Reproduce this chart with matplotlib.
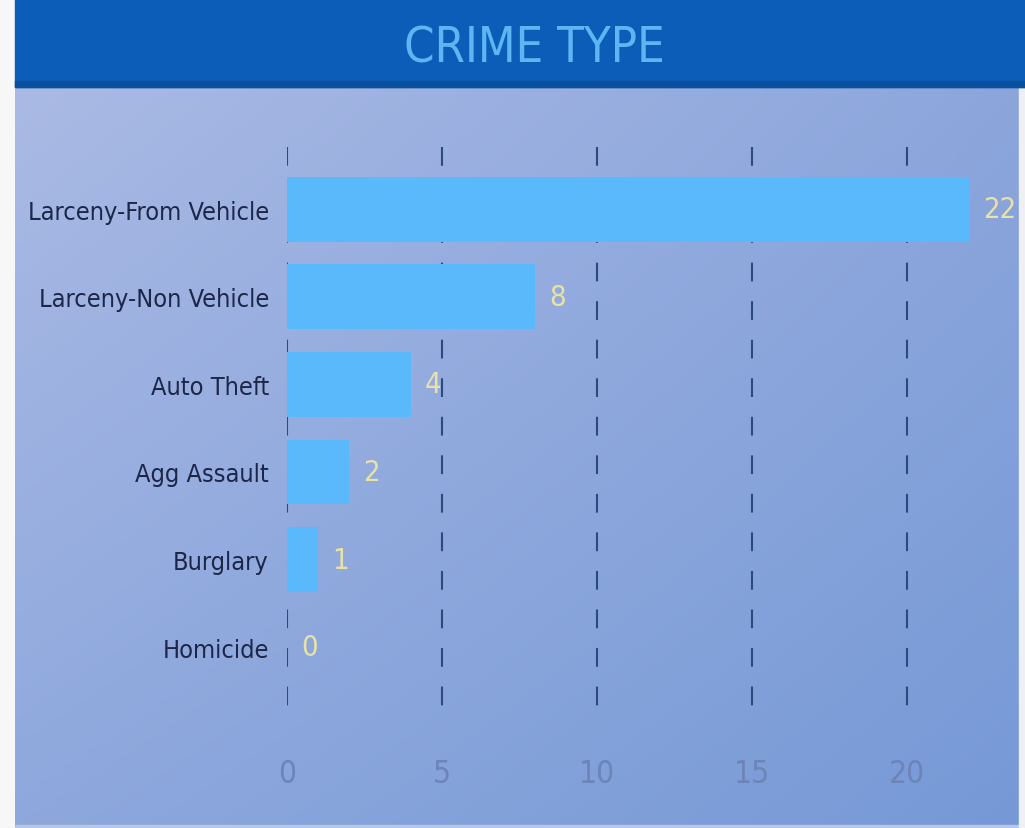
import numpy as np
import matplotlib
matplotlib.use("Agg")
import matplotlib.pyplot as plt
from matplotlib.patches import Rectangle
from matplotlib import font_manager as fm

categories = ["Larceny-From Vehicle", "Larceny-Non Vehicle", "Auto Theft",
              "Agg Assault", "Burglary", "Homicide"]
values = [22, 8, 4, 2, 1, 0]
xticks = [0, 5, 10, 15, 20]
title = "CRIME TYPE"

# pick the narrowest installed sans family
STRETCH_ORDER = {"ultra-condensed": 50, "extra-condensed": 62, "condensed": 75,
                 "semi-condensed": 87}
best = None
for f in fm.fontManager.ttflist:
    st = f.stretch
    if isinstance(st, str):
        st = STRETCH_ORDER.get(st, 100)
    if st < 100 and ("Sans" in f.name or "Roboto" in f.name or "Lato" in f.name
                     or "Inter" in f.name) and "Mono" not in f.name and "CJK" not in f.name:
        if best is None or st < best[1]:
            best = (f.name, st, f.stretch)
if best is not None:
    FONT = [best[0], "DejaVu Sans"]
    STRETCH = best[2]
else:
    FONT = ["Roboto", "DejaVu Sans"]
    STRETCH = "normal"
plt.rcParams["font.family"] = FONT
plt.rcParams["font.stretch"] = STRETCH

W, H = 1025, 829
fig = plt.figure(figsize=(W / 100, H / 100), dpi=100)
fig.patch.set_facecolor("#f7f7f8")
renderer = fig.canvas.get_renderer()


def fit_size(text, target_px, base=20, lo=8, hi=40):
    t = fig.text(0, 0, text, fontsize=base, family=FONT, fontstretch=STRETCH)
    w = t.get_window_extent(renderer).width
    t.remove()
    return float(np.clip(base * target_px / w, lo, hi))


cat_size = fit_size("Larceny-From Vehicle", 242, hi=26)
title_size = fit_size(title, 262, hi=46)
tick_size = cat_size * 1.25
val_size = cat_size * 1.15

# background layer in pixel coordinates
bg = fig.add_axes([0, 0, 1, 1], zorder=0)
bg.set_xlim(0, W)
bg.set_ylim(H, 0)
bg.axis("off")

tl = np.array([170, 186, 228]) / 255
tr = np.array([140, 166, 220]) / 255
bl = np.array([142, 168, 221]) / 255
br = np.array([118, 153, 214]) / 255
nx, ny = 200, 160
u = np.linspace(0, 1, nx)[None, :, None]
v = np.linspace(0, 1, ny)[:, None, None]
img = (1 - v) * ((1 - u) * tl + u * tr) + v * ((1 - u) * bl + u * br)
bg.imshow(img, extent=(15, 1019, 826, 88), aspect="auto", interpolation="bilinear", zorder=1)
bg.add_patch(Rectangle((15, 826), 1004, 3, color="#b9c6e4", zorder=2))
bg.add_patch(Rectangle((1019, 0), 6, H, color="#eef0f6", zorder=2))

# header
bg.add_patch(Rectangle((15, 0), 1010, 88, color="#0b5db8", zorder=2))
bg.add_patch(Rectangle((15, 82), 1010, 6, color="#0a4f9c", zorder=3))
bg.text(534, 48, title, color="#5db6f2", fontsize=title_size, ha="center", va="center",
        family=FONT, fontstretch=STRETCH, zorder=4)

# main axes: x 0 -> px 287, 22 -> px 969 ; y from px 148 to 720
ax = fig.add_axes([287 / W, (H - 720) / H, (969 - 287) / W, 572 / H], zorder=2)
ax.set_facecolor("none")
ypos = np.arange(len(categories))
YTOP, YBOT = -0.71, 5.82
ax.set_xlim(0, 22)
ax.set_ylim(YBOT, YTOP)

for xt in xticks:
    ax.plot([xt, xt], [YTOP, YBOT], color="#2b4a7e", lw=1.5,
            linestyle=(0, (9, 9.5)), zorder=1, solid_capstyle="butt")

ax.barh(ypos, values, height=0.74, color="#5ab9fb", zorder=2)

for y, val in zip(ypos, values):
    ax.annotate(str(val), (val, y), xytext=(10, 0), textcoords="offset points",
                ha="left", va="center", color="#e8e2a6", fontsize=val_size,
                family=FONT, fontstretch=STRETCH,
                annotation_clip=False, zorder=3)

ax.set_yticks(ypos)
ax.set_yticklabels(categories, fontsize=cat_size, color="#1c2648",
                   family=FONT, fontstretch=STRETCH)
ax.set_xticks(xticks)
ax.set_xticklabels([str(t) for t in xticks], fontsize=tick_size, color="#6c84b8",
                   family=FONT, fontstretch=STRETCH)
ax.tick_params(axis="y", length=0, pad=13)
ax.tick_params(axis="x", length=0, pad=28)
for s in ax.spines.values():
    s.set_visible(False)

fig.savefig("out.png", dpi=100, facecolor=fig.get_facecolor())
